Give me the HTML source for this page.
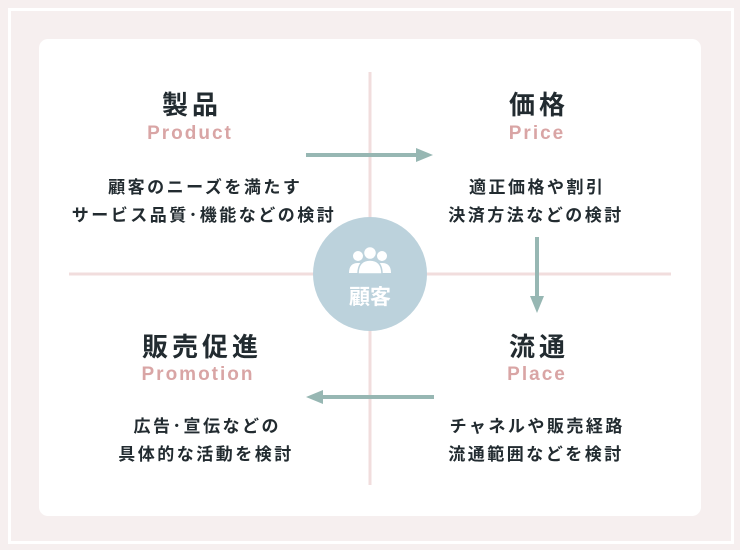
<!DOCTYPE html><html><head><meta charset="utf-8"><style>
body{margin:0;width:740px;height:550px;background:#f6efef;position:relative;overflow:hidden;font-family:"Liberation Sans","Noto Sans CJK JP",sans-serif}
.frame{position:absolute;left:8px;top:8px;width:720px;height:530px;border:3px solid #fff}
.card{position:absolute;left:39px;top:39px;width:662px;height:477px;background:#fff;border-radius:9px}
.t{position:absolute;width:340px;text-align:center;color:#222b30;white-space:nowrap}
.h{font-size:26px;font-weight:bold;letter-spacing:4px;text-indent:4px}
.e{font-size:19px;font-weight:bold;color:#d9a5a5;letter-spacing:2px}
.d{font-size:17px;font-weight:bold;letter-spacing:2.5px;text-indent:2.5px;line-height:28px}
</style></head><body>
<div class="frame"></div><div class="card"></div>
<svg style="position:absolute;left:0;top:0" width="740" height="550">
<line x1="370" y1="72" x2="370" y2="485" stroke="#f1dddd" stroke-width="3"/>
<line x1="69" y1="274" x2="671" y2="274" stroke="#f1dddd" stroke-width="3"/>
<circle cx="370" cy="274" r="57" fill="#bcd2dc"/>
<g fill="#fff">
<circle cx="358" cy="256" r="5"/><circle cx="382" cy="256" r="5"/>
<path d="M349 273 q0-10 9-10 q9 0 9 10z M373 273 q0-10 9-10 q9 0 9 10z"/>
<circle cx="370" cy="253" r="6.5" stroke="#bcd2dc" stroke-width="1.5"/>
<path d="M358 274 q0-14 12-14 q12 0 12 14z" stroke="#bcd2dc" stroke-width="1.5"/>
</g>
<text x="370" y="304" text-anchor="middle" fill="#fff" font-size="21" font-weight="bold" font-family="Liberation Sans,Noto Sans CJK JP,sans-serif">顧客</text>
<g stroke="#97b7b3" stroke-width="4" fill="#97b7b3">
<line x1="306" y1="155" x2="420" y2="155"/><polygon points="433,155 416,148 416,162" stroke="none"/>
<line x1="537" y1="237" x2="537" y2="300"/><polygon points="537,313 530,296 544,296" stroke="none"/>
<line x1="434" y1="397" x2="320" y2="397"/><polygon points="306,397 323,390 323,404" stroke="none"/>
</g></svg>
<div class="t h" style="left:20px;top:85px">製品</div>
<div class="t e" style="left:20px;top:123px">Product</div>
<div class="t d" style="left:34px;top:174px">顧客のニーズを満たす<br>サービス品質･機能などの検討</div>
<div class="t h" style="left:367px;top:85px">価格</div>
<div class="t e" style="left:367px;top:123px">Price</div>
<div class="t d" style="left:366px;top:174px">適正価格や割引<br>決済方法などの検討</div>
<div class="t h" style="left:30px;top:327px">販売促進</div>
<div class="t e" style="left:28px;top:364px">Promotion</div>
<div class="t d" style="left:36px;top:413px">広告･宣伝などの<br>具体的な活動を検討</div>
<div class="t h" style="left:367px;top:327px">流通</div>
<div class="t e" style="left:367px;top:364px">Place</div>
<div class="t d" style="left:366px;top:413px">チャネルや販売経路<br>流通範囲などを検討</div>
</body></html>
